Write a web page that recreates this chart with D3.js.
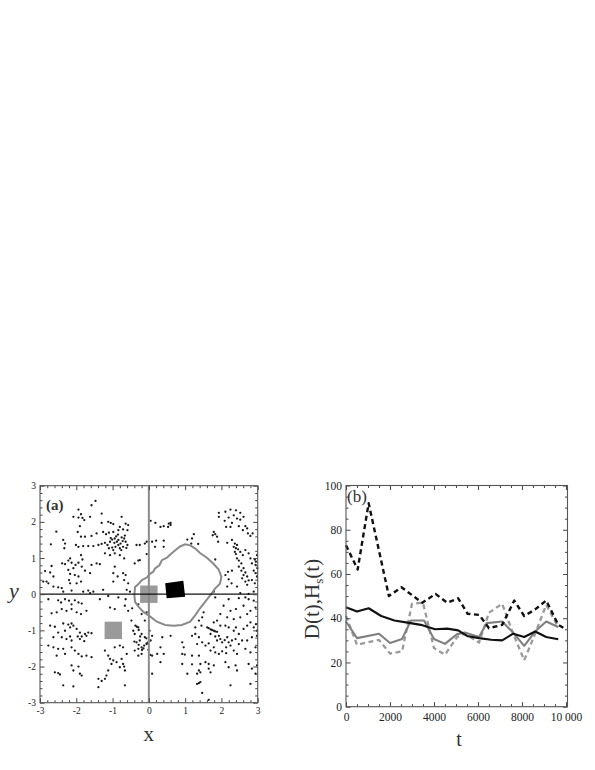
<!DOCTYPE html>
<html>
<head>
<meta charset="utf-8">
<script src="https://cdn.jsdelivr.net/npm/d3@7"></script>
<style>
body { margin: 0; background: #fff; }
svg { display: block; }
text { font-family: "Liberation Serif", "Times New Roman", serif; }
</style>
</head>
<body>
<div id="chart"></div>
<script>
// ---- panel (a) data: scattered points, contour and squares ----
var ptsUpperLeft = [[-1.47,2.58],[-1.58,2.46],[-1.94,2.34],[-1.87,2.21],[-2.08,2.14],[-1.94,2.12],[-1.83,2.11],[-1.62,2.14],[-1.78,2.05],[-1.30,2.23],[-1.90,1.88],[-1.30,1.97],[-1.12,2.00],[-1.05,1.97],[-0.98,1.94],[-0.80,1.86],[-0.64,1.95],[-0.57,1.91],[-0.75,2.14],[-1.96,1.72],[-1.87,1.59],[-1.76,1.59],[-1.58,1.61],[-1.44,1.68],[-1.26,1.72],[-1.18,1.66],[-1.10,1.70],[-0.98,1.72],[-0.84,1.77],[-0.71,1.79],[-0.59,1.77],[-2.70,1.38],[-2.36,1.50],[-2.31,1.40],[-2.33,1.27],[-2.01,1.36],[-1.94,1.31],[-1.81,1.33],[-1.67,1.33],[-1.53,1.33],[-1.39,1.36],[-1.30,1.39],[-1.21,1.42],[-1.14,1.36],[-1.07,1.45],[-1.01,1.51],[-0.94,1.54],[-0.84,1.50],[-0.75,1.57],[-0.68,1.54],[-0.64,1.45],[-0.59,1.36],[-0.71,1.31],[-0.80,1.27],[-0.92,1.31],[-1.01,1.29],[-1.10,1.27],[-0.98,1.22],[-0.84,1.36],[-0.34,1.36],[-0.25,1.36],[-0.11,1.40],[-0.06,1.45],[-1.21,1.13],[-1.07,1.08],[-0.94,1.13],[-0.80,1.08],[-0.68,0.99],[-2.17,0.99],[-2.22,0.93],[-2.13,0.87],[-2.31,0.83],[-2.39,0.85],[-1.87,1.08],[-1.83,0.96],[-1.94,0.87],[-2.02,0.81],[-2.08,0.72],[-1.85,0.76],[-2.68,0.78],[-2.72,0.60],[-2.86,0.64],[-2.63,0.49],[-2.91,0.35],[-2.82,0.35],[-2.77,0.30],[-2.22,0.67],[-2.17,0.56],[-2.20,0.39],[-2.04,0.53],[-1.94,0.49],[-1.99,0.30],[-1.87,0.35],[-1.76,0.65],[-1.62,0.58],[-1.58,0.81],[-1.44,0.85],[-1.35,0.83],[-0.94,0.76],[-0.98,0.58],[-0.86,0.49],[-0.98,0.35],[-0.71,0.58],[-0.64,0.53],[-0.68,0.39],[-0.57,0.30],[-0.39,0.85],[-0.29,0.93],[-0.25,0.94],[-0.06,1.11],[-2.63,0.21],[-2.50,0.19],[-2.40,0.17],[-2.36,0.07],[-2.17,0.30],[-2.13,0.10],[-1.81,0.07],[-1.67,0.10],[-1.62,0.03],[-1.53,0.07],[-1.26,0.12],[-0.61,0.12],[-0.52,0.07],[-0.95,1.42],[-0.88,1.45],[-0.78,1.40],[-0.72,1.47],[-0.90,1.60],[-0.85,1.65],[-0.66,1.62],[-1.05,1.55],[-0.62,1.28],[-0.76,1.22],[-2.55,1.73]];

var ptsUpperRight = [[0.05,2.03],[0.18,1.97],[0.32,1.86],[0.41,1.88],[0.55,1.95],[0.60,1.91],[0.53,1.86],[0.60,1.97],[0.09,1.45],[0.20,1.48],[0.41,1.48],[0.17,1.31],[0.41,1.31],[1.06,1.51],[1.19,1.54],[1.24,1.66],[1.17,1.40],[1.36,1.39],[1.93,2.25],[1.93,2.14],[2.11,2.28],[2.25,2.34],[2.34,2.18],[2.40,2.32],[2.52,2.25],[2.43,2.09],[2.52,2.06],[2.61,2.14],[2.20,2.12],[2.09,2.03],[2.29,1.97],[2.13,1.86],[2.25,1.86],[2.48,1.88],[2.66,1.88],[2.71,1.82],[2.59,1.77],[2.73,1.68],[2.80,1.61],[2.86,1.68],[1.79,1.72],[1.83,1.66],[1.76,1.63],[1.88,1.59],[1.91,1.45],[2.16,1.42],[2.29,1.50],[2.37,1.40],[2.43,1.36],[2.34,1.31],[2.40,1.27],[2.46,1.24],[2.37,1.17],[2.40,1.11],[2.52,1.17],[2.59,1.08],[2.66,1.22],[2.75,1.13],[2.80,0.99],[2.92,0.96],[2.95,0.90],[2.98,1.08],[2.84,0.85],[2.94,0.81],[2.43,0.99],[2.48,0.93],[2.55,0.85],[2.48,0.76],[2.61,0.72],[2.55,0.65],[2.66,0.60],[2.61,0.53],[2.71,0.49],[2.57,0.44],[2.75,0.38],[2.66,0.35],[2.71,0.26],[2.84,0.39],[2.92,0.30],[2.94,0.58],[2.89,0.65],[2.98,0.49],[2.99,0.72],[2.18,0.62],[2.29,0.65],[2.11,0.53],[2.20,0.41],[2.28,0.30],[2.43,0.21],[2.16,0.21],[1.83,0.96],[1.79,0.07],[2.52,0.03],[2.75,0.01],[2.89,0.07]];

var ptsLowerLeft = [[-2.77,-0.14],[-2.50,-0.17],[-2.42,-0.23],[-2.31,-0.14],[-2.20,-0.18],[-2.13,-0.28],[-2.04,-0.17],[-1.94,-0.23],[-1.85,-0.26],[-1.35,-0.14],[-1.12,-0.05],[-0.84,-0.09],[-0.64,-0.14],[-2.68,-0.53],[-2.54,-0.50],[-2.40,-0.41],[-2.27,-0.46],[-2.13,-0.41],[-1.99,-0.50],[-1.87,-0.55],[-1.72,-0.46],[-2.72,-0.87],[-2.59,-0.90],[-2.36,-0.81],[-2.22,-0.84],[-2.17,-0.92],[-2.13,-0.81],[-2.08,-0.87],[-1.99,-0.96],[-1.90,-1.06],[-2.31,-1.01],[-2.50,-1.06],[-2.63,-1.19],[-2.40,-1.19],[-2.27,-1.24],[-2.17,-1.17],[-2.13,-1.28],[-1.96,-1.17],[-1.90,-1.24],[-1.85,-1.17],[-1.76,-1.10],[-1.67,-1.06],[-1.58,-1.08],[-1.78,-1.30],[-1.72,-1.15],[-2.77,-1.42],[-2.63,-1.47],[-2.50,-1.51],[-2.36,-1.51],[-2.13,-1.47],[-2.04,-1.56],[-2.54,-1.70],[-2.31,-1.65],[-1.94,-1.65],[-1.85,-1.72],[-1.72,-1.70],[-1.58,-1.74],[-1.07,-0.37],[-0.94,-0.41],[-0.66,-0.32],[-0.57,-0.46],[-0.46,-0.39],[-0.29,-0.28],[-0.20,-0.17],[-0.48,-0.73],[-0.37,-0.87],[-0.29,-0.92],[-0.43,-1.01],[-0.39,-1.10],[-0.20,-1.10],[-0.11,-1.19],[-0.25,-1.28],[-0.34,-1.33],[-0.94,-1.47],[-0.80,-1.42],[-0.71,-1.47],[-0.61,-1.65],[-1.21,-1.56],[-1.12,-1.70],[-1.07,-1.79],[-0.98,-1.83],[-1.03,-1.93],[-0.89,-1.88],[-0.75,-1.79],[-0.71,-1.93],[-0.68,-2.00],[-0.80,-2.02],[-0.66,-2.11],[-1.12,-2.11],[-1.17,-2.25],[-1.21,-2.34],[-1.30,-2.40],[-1.39,-2.34],[-2.13,-1.97],[-1.94,-2.00],[-2.08,-2.11],[-1.90,-2.20],[-1.85,-2.25],[-2.59,-2.16],[-2.50,-2.18],[-2.45,-2.22],[-2.36,-2.52],[-2.08,-2.55],[-1.39,-2.57],[-0.66,-2.52],[-0.39,-1.56],[-0.29,-1.51],[-0.20,-1.47],[-0.13,-1.42],[-0.06,-1.38],[-0.02,-1.33],[-0.29,-1.70],[-0.20,-1.65],[-0.20,-0.55],[-0.06,-0.50],[-0.11,-0.73],[-0.06,-1.36],[-0.07,-1.22],[-0.33,-0.90],[-0.28,-0.99],[-0.24,-1.17],[-0.15,-1.50],[-0.40,-1.31],[-0.28,-1.40],[-0.19,-1.54]];

var ptsLowerRight = [[1.83,-0.09],[2.20,-0.14],[2.48,-0.11],[2.66,-0.09],[2.75,-0.14],[2.89,-0.18],[2.06,-0.32],[2.25,-0.46],[2.40,-0.41],[1.97,-0.55],[2.16,-0.64],[2.34,-0.69],[2.52,-0.64],[2.71,-0.55],[2.80,-0.46],[2.94,-0.37],[2.61,-0.32],[1.51,-0.50],[1.47,-0.64],[1.38,-0.73],[1.45,-0.87],[1.28,-0.92],[1.61,-0.92],[1.79,-0.78],[1.88,-0.73],[1.65,-0.94],[1.70,-0.97],[1.74,-0.99],[1.79,-1.01],[1.83,-1.03],[1.88,-1.04],[1.97,-0.87],[2.11,-0.87],[2.20,-0.92],[2.34,-1.01],[2.40,-0.92],[2.48,-1.10],[2.61,-0.96],[2.71,-0.87],[2.80,-0.78],[2.89,-0.92],[2.95,-0.83],[2.98,-1.01],[1.70,-1.10],[1.83,-1.17],[1.93,-1.15],[1.88,-1.28],[1.97,-1.24],[2.02,-1.33],[2.09,-1.27],[2.16,-1.19],[2.20,-1.33],[2.29,-1.28],[2.39,-1.24],[2.25,-1.42],[2.13,-1.47],[2.48,-1.38],[2.57,-1.28],[2.71,-1.28],[2.84,-1.19],[2.98,-1.15],[1.19,-1.15],[1.28,-1.10],[1.38,-1.19],[1.47,-1.33],[1.33,-1.38],[1.56,-1.42],[1.65,-1.36],[1.79,-1.47],[1.70,-1.56],[1.83,-1.61],[1.93,-1.65],[2.02,-1.58],[2.13,-1.63],[2.34,-1.56],[2.43,-1.65],[2.66,-1.51],[2.80,-1.61],[2.94,-1.47],[0.09,-1.15],[0.02,-1.01],[0.05,-1.28],[0.37,-1.19],[0.60,-1.15],[0.32,-1.47],[0.23,-1.65],[0.41,-1.65],[0.09,-1.70],[0.32,-1.88],[0.92,-1.33],[0.96,-1.47],[0.92,-1.65],[0.99,-1.67],[1.19,-1.70],[1.38,-1.70],[0.92,-1.93],[1.19,-1.94],[1.42,-1.93],[1.56,-1.88],[1.65,-1.93],[1.79,-1.97],[1.65,-2.06],[1.70,-2.16],[2.11,-1.88],[2.20,-2.02],[2.39,-1.97],[2.43,-2.11],[2.75,-1.93],[2.84,-2.06],[2.94,-2.20],[2.98,-1.97],[1.06,-2.20],[1.33,-2.20],[1.38,-2.11],[1.42,-2.16],[1.33,-2.48],[1.38,-2.46],[1.42,-2.43],[1.47,-2.73],[1.65,-2.92],[2.80,-2.48],[2.25,-2.52],[0.09,-2.20],[0.04,-1.68],[-0.01,-1.54]];

var contour = [[-0.40,-0.03],[-0.38,0.20],[-0.28,0.29],[-0.19,0.39],[-0.06,0.46],[0.04,0.57],[0.12,0.62],[0.17,0.71],[0.29,0.80],[0.36,0.94],[0.50,1.01],[0.59,1.10],[0.72,1.21],[0.86,1.32],[1.00,1.38],[1.14,1.35],[1.28,1.26],[1.41,1.14],[1.60,1.01],[1.78,0.84],[1.92,0.69],[2.00,0.48],[1.96,0.29],[1.83,0.16],[1.69,-0.03],[1.55,-0.21],[1.41,-0.39],[1.28,-0.58],[1.14,-0.76],[0.91,-0.85],[0.68,-0.87],[0.45,-0.85],[0.22,-0.76],[0.04,-0.62],[-0.15,-0.49],[-0.28,-0.35],[-0.38,-0.21]];

var blackSquare = [[0.45,0.30],[0.95,0.37],[1.00,-0.07],[0.49,-0.11]];
var graySquares = [[0, 0], [-0.98, -1.0]];   // centres
var graySquareSide = 0.48;

// ---- panel (b) data: [t, value] ----
var blackDashed = [[0,73],[530,62],[1030,92],[1950,50],[2520,54],[3470,47],[4070,51],[4600,47],[5100,49],[5530,42],[6060,41.5],[6500,35.5],[7100,37],[7650,48],[8100,41],[8600,44],[9100,48],[9650,37],[10000,35]];
var blackSolid = [[0,45],[500,43],[1030,44.5],[1600,41],[2200,39],[2800,38],[3400,37],[4050,35],[4600,35.3],[5100,34.5],[5500,32],[6050,31],[6600,30.3],[7100,30],[7600,33],[8100,31.5],[8600,34],[9100,31.5],[9650,30.5]];
var graySolid = [[0,38.5],[500,31],[1500,33],[2000,28.8],[2550,30.6],[2950,39],[3550,39],[4000,30.6],[4500,28.4],[5050,32.8],[5400,33.5],[6050,31.5],[6400,37.8],[7100,38.5],[7600,33.5],[8100,27.5],[8600,34],[9100,38.5],[9650,36]];
var grayDashed = [[0,41],[500,28],[1500,30.2],[2000,24],[2550,25],[3000,46.5],[3500,47],[4000,26.5],[4500,23.5],[5050,31.5],[5400,33],[6050,29],[6500,42.5],[7100,46.5],[7600,33],[8100,21],[8600,33],[9100,46],[9650,36]];

// tick values
var aMajor = [-3,-2,-1,0,1,2,3];
var bxMajor = [0,2000,4000,6000,8000,10000];
var byMajor = [0,20,40,60,80,100];

var width = 595, height = 770;
var svg = d3.select("#chart").append("svg")
    .attr("width", width)
    .attr("height", height);

// draws the frame with inward ticks on all four sides
function drawFrame(g, x, y, o) {
    var xr = x.range(), yr = y.range();
    var axes = [
        [d3.axisBottom(x), "translate(0," + yr[0] + ")", o.xMajor, o.xMinor, true],
        [d3.axisTop(x), "translate(0," + yr[1] + ")", o.xMajor, o.xMinor, false],
        [d3.axisLeft(y), "translate(" + xr[0] + ",0)", o.yMajor, o.yMinor, true],
        [d3.axisRight(y), "translate(" + xr[1] + ",0)", o.yMajor, o.yMinor, false]
    ];
    axes.forEach(function(a, i) {
        var major = a[0].tickValues(a[2]).tickSize(-4.5).tickPadding(i < 2 ? o.padX : o.padY)
            .tickFormat(a[4] ? (i < 2 ? o.xFmt : o.yFmt) : "");
        var ga = g.append("g").attr("transform", a[1]).call(major);
        ga.attr("font-family", "Liberation Serif, serif").attr("font-size", o.fontSize);
        ga.selectAll("text").attr("fill", "#222");
        ga.select(".domain").remove();
        ga.selectAll("line").attr("stroke", "#444");
        var minorAxis = (i === 0 ? d3.axisBottom(x) : i === 1 ? d3.axisTop(x) : i === 2 ? d3.axisLeft(y) : d3.axisRight(y))
            .tickValues(a[3]).tickSize(-2.5).tickFormat("");
        var gm = g.append("g").attr("transform", a[1]).call(minorAxis);
        gm.select(".domain").remove();
        gm.selectAll("line").attr("stroke", "#444");
    });
    g.append("rect")
        .attr("x", xr[0]).attr("y", yr[1])
        .attr("width", xr[1] - xr[0]).attr("height", yr[0] - yr[1])
        .attr("fill", "none").attr("stroke", "#555").attr("stroke-width", 1.1);
}

function minorOf(lo, hi, step, majors) {
    return d3.range(lo, hi + step / 2, step)
        .map(function(v) { return Math.round(v * 1000) / 1000; })
        .filter(function(v) { return majors.indexOf(v) < 0; });
}

// ---------- panel (a) ----------
var xa = d3.scaleLinear().domain([-3, 3]).range([40, 257.7]);
var ya = d3.scaleLinear().domain([-3, 3]).range([702.7, 485.7]);
var ga = svg.append("g");

var allPts = ptsUpperLeft.concat(ptsUpperRight, ptsLowerLeft, ptsLowerRight);
ga.selectAll(".dot")
    .data(allPts)
    .enter().append("circle")
    .attr("class", "dot")
    .attr("cx", function(d) { return xa(d[0]); })
    .attr("cy", function(d) { return ya(d[1]); })
    .attr("r", 1.15)
    .attr("fill", "#1a1a1a");

ga.selectAll(".gsq")
    .data(graySquares)
    .enter().append("rect")
    .attr("class", "gsq")
    .attr("x", function(d) { return xa(d[0] - graySquareSide / 2); })
    .attr("y", function(d) { return ya(d[1] + graySquareSide / 2); })
    .attr("width", xa(graySquareSide) - xa(0))
    .attr("height", ya(0) - ya(graySquareSide))
    .attr("fill", "#9a9a9a");

ga.append("path")
    .datum(contour)
    .attr("d", d3.line().x(function(d) { return xa(d[0]); }).y(function(d) { return ya(d[1]); }).curve(d3.curveLinearClosed))
    .attr("fill", "none")
    .attr("stroke", "#8a8a8a")
    .attr("stroke-width", 2);

// axes through the origin
ga.append("line")
    .attr("x1", xa(0)).attr("x2", xa(0)).attr("y1", ya(-3)).attr("y2", ya(3))
    .attr("stroke", "#8a8a8a").attr("stroke-width", 2);
ga.append("line")
    .attr("x1", xa(-3)).attr("x2", xa(3)).attr("y1", ya(0)).attr("y2", ya(0))
    .attr("stroke", "#111").attr("stroke-width", 1.3);

ga.append("path")
    .datum(blackSquare)
    .attr("d", d3.line().x(function(d) { return xa(d[0]); }).y(function(d) { return ya(d[1]); }).curve(d3.curveLinearClosed))
    .attr("fill", "#000");

drawFrame(ga, xa, ya, {
    xMajor: aMajor, yMajor: aMajor,
    xMinor: minorOf(-3, 3, 0.2, aMajor), yMinor: minorOf(-3, 3, 0.2, aMajor),
    xFmt: function(d) { return String(d); }, yFmt: function(d) { return String(d); },
    padX: 5, padY: 4, fontSize: 9.5
});

ga.append("text").attr("x", 46).attr("y", 510)
    .attr("font-size", 15).attr("font-weight", "bold").attr("fill", "#333").text("(a)");
ga.append("text").attr("x", xa(0)).attr("y", 741).attr("text-anchor", "middle")
    .attr("font-size", 21).attr("fill", "#333").text("x");
ga.append("text").attr("x", 14).attr("y", 598).attr("text-anchor", "middle")
    .attr("font-size", 22).attr("font-style", "italic").attr("fill", "#333").text("y");

// ---------- panel (b) ----------
var xb = d3.scaleLinear().domain([0, 10070]).range([346, 567.5]);
var yb = d3.scaleLinear().domain([0, 100]).range([706.7, 485.5]);
var gb = svg.append("g");

var line = d3.line()
    .x(function(d) { return xb(d[0]); })
    .y(function(d) { return yb(d[1]); });

var series = [
    { data: grayDashed, color: "#9a9a9a", dash: "5,3.5", w: 2.3 },
    { data: graySolid, color: "#808080", dash: null, w: 2.1 },
    { data: blackSolid, color: "#111", dash: null, w: 2.1 },
    { data: blackDashed, color: "#111", dash: "5,3.5", w: 2.4 }
];
series.forEach(function(s) {
    gb.append("path")
        .datum(s.data)
        .attr("d", line)
        .attr("fill", "none")
        .attr("stroke", s.color)
        .attr("stroke-width", s.w)
        .attr("stroke-dasharray", s.dash)
        .attr("stroke-linejoin", "round");
});

drawFrame(gb, xb, yb, {
    xMajor: bxMajor, yMajor: byMajor,
    xMinor: minorOf(0, 10000, 500, bxMajor), yMinor: minorOf(0, 100, 5, byMajor),
    xFmt: function(d) { return d === 10000 ? "10 000" : String(d); },
    yFmt: function(d) { return String(d); },
    padX: 6, padY: 4, fontSize: 11.5
});

gb.append("text").attr("x", 347).attr("y", 502)
    .attr("font-size", 17).attr("fill", "#333").text("(b)");
gb.append("text").attr("x", 459).attr("y", 746).attr("text-anchor", "middle")
    .attr("font-size", 20).attr("fill", "#333").text("t");
var yl = gb.append("text")
    .attr("transform", "translate(319,599) rotate(-90)")
    .attr("text-anchor", "middle")
    .attr("font-size", 21).attr("fill", "#333");
yl.append("tspan").text("D(t),H");
yl.append("tspan").attr("font-size", 13).attr("dy", 4).text("s");
yl.append("tspan").attr("dy", -4).text("(t)");
</script>
</body>
</html>
